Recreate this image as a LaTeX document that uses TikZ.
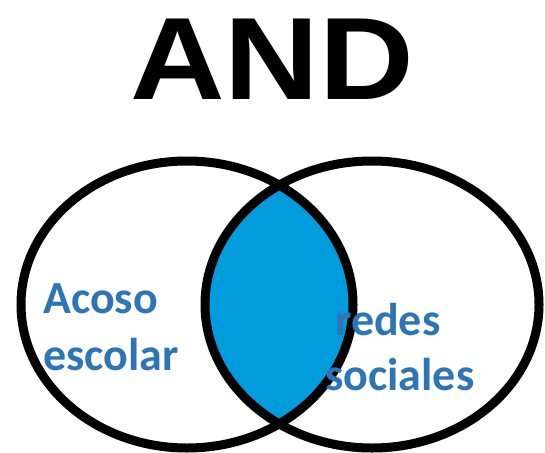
\documentclass[tikz,border=0pt]{standalone}
\usepackage{fontspec}
\setmainfont{Carlito}
\newfontfamily\andfont{Liberation Sans}
\definecolor{lensblue}{RGB}{0,156,222}
\definecolor{txtblue}{RGB}{46,117,182}
\begin{document}
\begin{tikzpicture}[x=1pt,y=-1pt,
  ring/.style={draw=black,line width=9pt},
  lbl/.style={inner sep=0pt,anchor=base west,text=txtblue,font=\fontsize{46}{57}\selectfont\bfseries}]
\useasboundingbox (0,0) rectangle (545,452);
\fill[white] (0,0) rectangle (545,452);
\node[inner sep=0pt,anchor=base,font=\andfont\bfseries\fontsize{117}{117}\selectfont,xscale=1.12] (title) at (272,99) {AND};
\begin{scope}
  \clip (187,304.5) ellipse [x radius=166pt,y radius=143.5pt];
  \fill[lensblue] (372,304.5) ellipse [x radius=167pt,y radius=143.5pt];
\end{scope}
\draw[ring] (187,304.5) ellipse [x radius=166pt,y radius=143.5pt];
\draw[ring] (372,304.5) ellipse [x radius=167pt,y radius=143.5pt];
\node[lbl] (a1) at (43,313) {Acoso};
\node[lbl] (a2) at (43,370) {escolar};
\node[lbl] (b1) at (335,335) {redes};
\node[lbl] (b2) at (325,390) {sociales};
\end{tikzpicture}
\end{document}
